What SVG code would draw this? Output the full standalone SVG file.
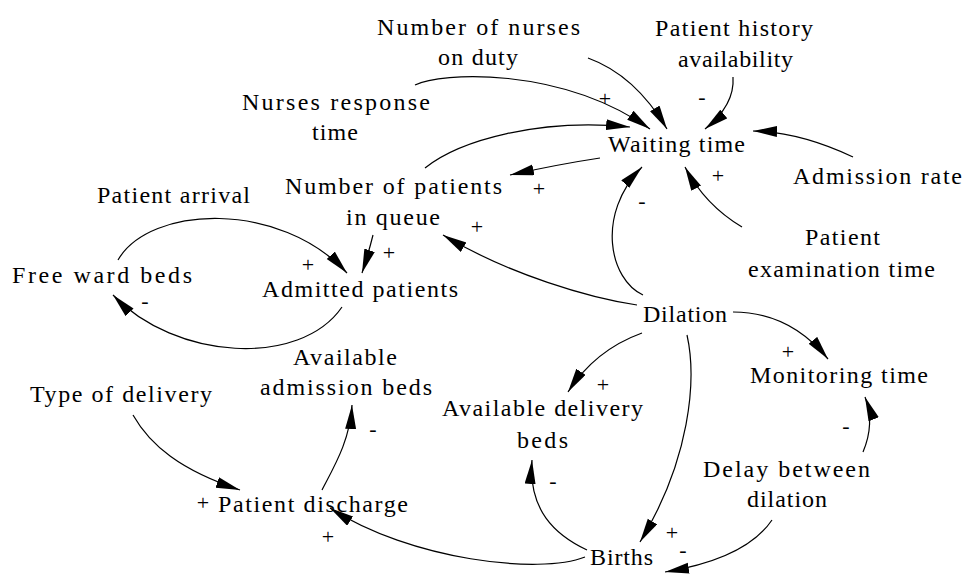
<svg xmlns="http://www.w3.org/2000/svg" width="964" height="577" viewBox="0 0 964 577">
  <style>
    .lbl { font-family: "Liberation Serif", "Times New Roman", serif; font-size: 24px; fill: #000; }
    .sign { font-family: "Liberation Serif", "Times New Roman", serif; font-size: 22px; fill: #000; text-anchor: middle; }
    .link { fill: none; stroke: #000; stroke-width: 1.2; marker-end: url(#arrow); }
  </style>
  <defs>
    <marker id="arrow" markerUnits="userSpaceOnUse" markerWidth="25" markerHeight="12" refX="24" refY="5.5" orient="auto">
      <path d="M0,0 L24,5.5 L0,11 z" fill="#000"/>
    </marker>
  </defs>
  <rect width="964" height="577" fill="#fff"/>

  <!-- causal links -->
  <g id="connectors">
    <path class="link" d="M415,85 C440,72 560,66 650,129"/>
    <path class="link" d="M588,58 Q635,75 667,129"/>
    <path class="link" d="M733,77 Q735,105 705,129"/>
    <path class="link" d="M853,157 Q800,132 753,131"/>
    <path class="link" d="M425,168 C460,140 540,118 630,127"/>
    <path class="link" d="M600,158 Q560,164 510,175"/>
    <path class="link" d="M643,295 C610,280 595,215 642,167"/>
    <path class="link" d="M742,227 Q705,205 685,167"/>
    <path class="link" d="M637,305 C590,298 510,275 443,235"/>
    <path class="link" d="M373,235 Q368,255 362,273"/>
    <path class="link" d="M118,260 C150,205 280,200 347,273"/>
    <path class="link" d="M342,307 C300,368 175,360 113,295"/>
    <path class="link" d="M733,312 Q790,312 828,359"/>
    <path class="link" d="M642,333 Q595,350 568,392"/>
    <path class="link" d="M687,335 C697,380 690,460 640,542"/>
    <path class="link" d="M587,550 C555,535 528,510 532,460"/>
    <path class="link" d="M585,557 C540,575 410,560 330,508"/>
    <path class="link" d="M133,415 C150,445 180,470 240,490"/>
    <path class="link" d="M322,490 C335,465 350,440 352,405"/>
    <path class="link" d="M772,520 C755,545 720,563 665,572"/>
    <path class="link" d="M863,452 C871,433 872,415 865,397"/>

    <!-- link polarities -->
    <g id="polarities">
      <text class="sign" x="605" y="106">+</text>
      <text class="sign" x="702" y="104">-</text>
      <text class="sign" x="539" y="196">+</text>
      <text class="sign" x="642" y="208">-</text>
      <text class="sign" x="718" y="183">+</text>
      <text class="sign" x="477" y="234">+</text>
      <text class="sign" x="389" y="260">+</text>
      <text class="sign" x="308" y="272">+</text>
      <text class="sign" x="145" y="308">-</text>
      <text class="sign" x="788" y="359">+</text>
      <text class="sign" x="603" y="392">+</text>
      <text class="sign" x="373" y="436">-</text>
      <text class="sign" x="203" y="510">+</text>
      <text class="sign" x="328" y="544">+</text>
      <text class="sign" x="553" y="488">-</text>
      <text class="sign" x="846" y="433">-</text>
      <text class="sign" x="672" y="540">+</text>
      <text class="sign" x="683" y="557">-</text>
    </g>
  </g>

  <!-- variables -->
  <g id="nurses-on-duty">
    <text class="lbl" x="377" y="35" textLength="203" lengthAdjust="spacing">Number of nurses</text>
    <text class="lbl" x="438" y="65" textLength="80" lengthAdjust="spacing">on duty</text>
  </g>
  <g id="patient-history">
    <text class="lbl" x="655" y="36" textLength="158" lengthAdjust="spacing">Patient history</text>
    <text class="lbl" x="678" y="67" textLength="115" lengthAdjust="spacing">availability</text>
  </g>
  <g id="nurses-response">
    <text class="lbl" x="242" y="110" textLength="188" lengthAdjust="spacing">Nurses response</text>
    <text class="lbl" x="312" y="140" textLength="46" lengthAdjust="spacing">time</text>
  </g>
  <g id="waiting-time">
    <text class="lbl" x="608" y="152" textLength="137" lengthAdjust="spacing">Waiting time</text>
  </g>
  <g id="admission-rate">
    <text class="lbl" x="793" y="184" textLength="169" lengthAdjust="spacing">Admission rate</text>
  </g>
  <g id="patients-in-queue">
    <text class="lbl" x="285" y="194" textLength="217" lengthAdjust="spacing">Number of patients</text>
    <text class="lbl" x="346" y="225" textLength="94" lengthAdjust="spacing">in queue</text>
  </g>
  <g id="patient-arrival">
    <text class="lbl" x="97" y="203" textLength="153" lengthAdjust="spacing">Patient arrival</text>
  </g>
  <g id="free-ward-beds">
    <text class="lbl" x="12" y="283" textLength="180" lengthAdjust="spacing">Free ward beds</text>
  </g>
  <g id="admitted-patients">
    <text class="lbl" x="262" y="297" textLength="196" lengthAdjust="spacing">Admitted patients</text>
  </g>
  <g id="examination-time">
    <text class="lbl" x="805" y="245" textLength="75" lengthAdjust="spacing">Patient</text>
    <text class="lbl" x="748" y="277" textLength="187" lengthAdjust="spacing">examination time</text>
  </g>
  <g id="dilation">
    <text class="lbl" x="643" y="322" textLength="84" lengthAdjust="spacing">Dilation</text>
  </g>
  <g id="monitoring-time">
    <text class="lbl" x="750" y="383" textLength="178" lengthAdjust="spacing">Monitoring time</text>
  </g>
  <g id="admission-beds">
    <text class="lbl" x="293" y="365" textLength="104" lengthAdjust="spacing">Available</text>
    <text class="lbl" x="260" y="395" textLength="172" lengthAdjust="spacing">admission beds</text>
  </g>
  <g id="type-of-delivery">
    <text class="lbl" x="30" y="402" textLength="182" lengthAdjust="spacing">Type of delivery</text>
  </g>
  <g id="patient-discharge">
    <text class="lbl" x="218" y="512" textLength="190" lengthAdjust="spacing">Patient discharge</text>
  </g>
  <g id="delivery-beds">
    <text class="lbl" x="442" y="416" textLength="201" lengthAdjust="spacing">Available delivery</text>
    <text class="lbl" x="517" y="448" textLength="51" lengthAdjust="spacing">beds</text>
  </g>
  <g id="births">
    <text class="lbl" x="590" y="565" textLength="63" lengthAdjust="spacing">Births</text>
  </g>
  <g id="dilation-delay">
    <text class="lbl" x="703" y="477" textLength="167" lengthAdjust="spacing">Delay between</text>
    <text class="lbl" x="747" y="507" textLength="80" lengthAdjust="spacing">dilation</text>
  </g>
</svg>
